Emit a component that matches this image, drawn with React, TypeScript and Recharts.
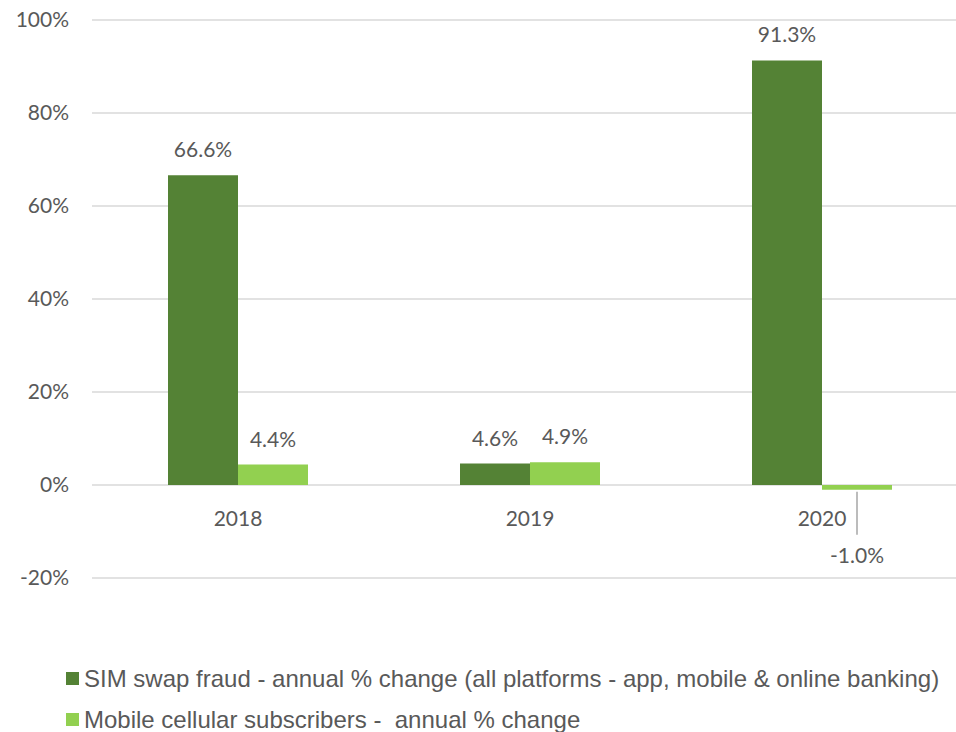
import * as React from 'react';
import { BarChart, Bar, XAxis, YAxis, CartesianGrid, Legend, LabelList } from 'recharts';

const years = ['2018', '2019', '2020'];
const simSwapFraud = [66.6, 4.6, 91.3];
const mobileSubscribers = [4.4, 4.9, -1.0];
const yTicks = [-20, 0, 20, 40, 60, 80, 100];

const seriesOrder = ['fraud', 'mobile'];
const seriesNames = {
  fraud: 'SIM swap fraud - annual % change (all platforms - app, mobile & online banking)',
  mobile: 'Mobile cellular subscribers -  annual % change',
};

const data = years.map((year, i) => ({
  year,
  fraud: simSwapFraud[i],
  mobile: mobileSubscribers[i],
}));

const TEXT = '#595959';
const TICK_FONT = 'Lato, "Open Sans", sans-serif';
const TICK_SIZE = 21;

function BarLabel(props: any): React.ReactElement {
  const { x, y, width, height, value } = props;
  const cx = x + width / 2;
  const label = `${Number(value).toFixed(1)}%`;
  if (value < 0) {
    const bottom = Math.max(y, y + height);
    return (
      <g>
        <line x1={cx} x2={cx} y1={bottom + 2} y2={bottom + 45} stroke="#A6A6A6" strokeWidth={1.5} />
        <text x={cx} y={bottom + 73} textAnchor="middle" fill={TEXT} fontSize={TICK_SIZE} fontFamily={TICK_FONT}>
          {label}
        </text>
      </g>
    );
  }
  const top = Math.min(y, y + height);
  return (
    <text x={cx} y={top - 18} textAnchor="middle" fill={TEXT} fontSize={TICK_SIZE} fontFamily={TICK_FONT}>
      {label}
    </text>
  );
}

function YearTick(props: any): React.ReactElement {
  const { x, y, payload } = props;
  // category labels sit just under the 0% line, not at the bottom of the plot
  return (
    <text x={x} y={y - 60} textAnchor="middle" fill={TEXT} fontSize={TICK_SIZE} fontFamily={TICK_FONT}>
      {payload.value}
    </text>
  );
}

function LegendBox(props: any): React.ReactElement {
  const items = [...(props.payload || [])].sort(
    (a: any, b: any) => seriesOrder.indexOf(a.dataKey) - seriesOrder.indexOf(b.dataKey)
  );
  return (
    <div style={{ height: 100, paddingLeft: 66, paddingTop: 26, boxSizing: 'border-box' }}>
      {items.map((entry: any) => (
        <div
          key={entry.dataKey}
          style={{
            display: 'flex',
            alignItems: 'center',
            height: 41,
            fontFamily: '"Liberation Sans", Arial, sans-serif',
            fontSize: 24,
            color: TEXT,
            whiteSpace: 'pre',
          }}
        >
          <span style={{ width: 13, height: 13, background: entry.color, display: 'inline-block', marginRight: 5 }} />
          {entry.value}
        </div>
      ))}
    </div>
  );
}

export default function App(): React.ReactElement {
  return (
    <div style={{ position: 'absolute', left: 0, top: 0, width: 956, height: 732, overflow: 'hidden', background: '#fff' }}>
      <BarChart
        width={968}
        height={732}
        data={data}
        margin={{ top: 20, right: 0, bottom: 0, left: 0 }}
        barGap={0}
        barSize={70}
      >
        <CartesianGrid horizontal vertical={false} stroke="#D9D9D9" strokeWidth={1.5} />
        <XAxis dataKey="year" height={54} axisLine={false} tickLine={false} tick={<YearTick />} interval={0} />
        <YAxis
          width={92}
          domain={[-20, 100]}
          ticks={yTicks}
          interval={0}
          axisLine={false}
          tickLine={false}
          tickSize={0}
          tickMargin={23}
          tickFormatter={(v: number): string => `${v}%`}
          tick={{ fill: TEXT, fontSize: TICK_SIZE, fontFamily: TICK_FONT }}
        />
        <Legend verticalAlign="bottom" align="left" content={<LegendBox />} />
        <Bar dataKey="fraud" name={seriesNames.fraud} fill="#548235" isAnimationActive={false}>
          <LabelList dataKey="fraud" content={<BarLabel />} />
        </Bar>
        <Bar dataKey="mobile" name={seriesNames.mobile} fill="#92D050" isAnimationActive={false}>
          <LabelList dataKey="mobile" content={<BarLabel />} />
        </Bar>
      </BarChart>
    </div>
  );
}
